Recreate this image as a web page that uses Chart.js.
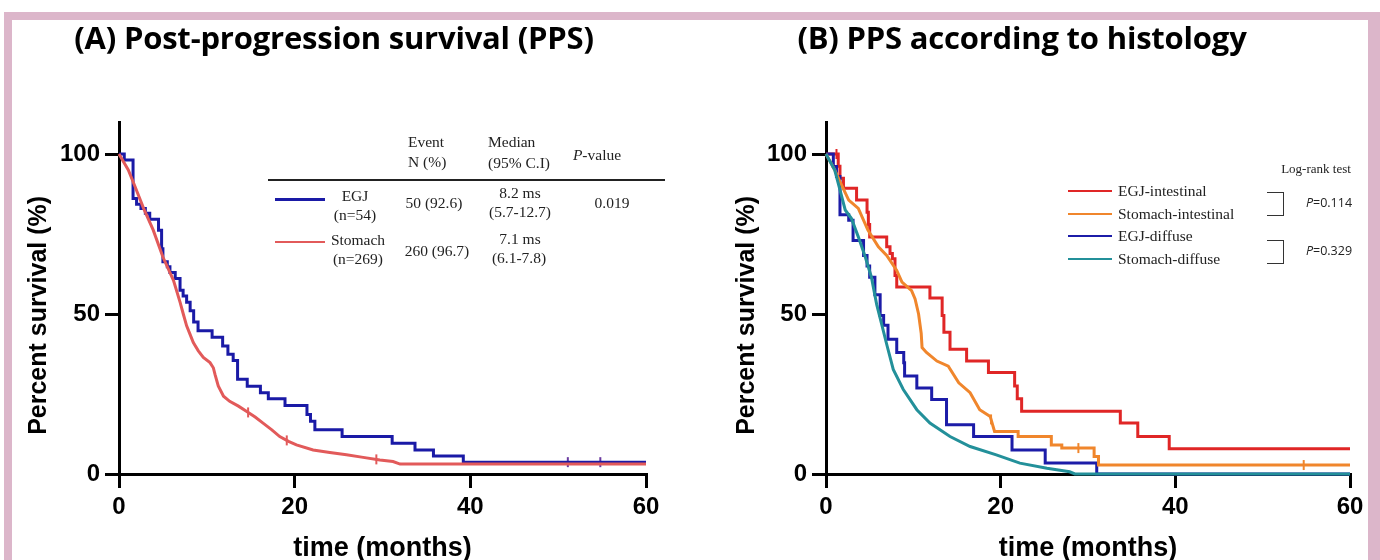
<!DOCTYPE html>
<html>
<head>
<meta charset="utf-8">
<script src="https://cdn.jsdelivr.net/npm/chart.js@4.4.1/dist/chart.umd.min.js"></script>
<style>
html,body{margin:0;padding:0;background:#fff;}
#wrap{position:relative;width:1380px;height:560px;overflow:hidden;background:#fff;}
canvas{position:absolute;top:0;}
.frame{position:absolute;background:#dcb6ca;}
.c{position:absolute;white-space:nowrap;transform:translate(-50%,-50%);line-height:1;}
.l{position:absolute;white-space:nowrap;transform:translate(0,-50%);line-height:1;}
.ttl{font-family:"Open Sans",Lato,sans-serif;font-weight:700;font-size:31px;color:#000;letter-spacing:-0.2px;}
.sf{font-family:"Liberation Serif","Times New Roman",serif;font-size:15.5px;color:#222;}
.sm{font-family:"Liberation Serif","Times New Roman",serif;font-size:13px;color:#222;}
.pv{font-family:"Open Sans",Lato,sans-serif;font-size:12.5px;color:#222;}
.sw{position:absolute;height:3px;}
.br{position:absolute;border:1.5px solid #333;border-left:none;}
</style>
</head>
<body>
<div id="wrap">
  <canvas id="cA" width="690" height="560" style="left:0px"></canvas>
  <canvas id="cB" width="690" height="560" style="left:690px"></canvas>

  <div class="frame" style="left:4px;top:12px;width:1376px;height:8px"></div>
  <div class="frame" style="left:4px;top:12px;width:8px;height:548px"></div>
  <div class="frame" style="left:1368px;top:12px;width:12px;height:548px"></div>

  <div class="c ttl" style="left:334px;top:37px">(A) Post-progression survival (PPS)</div>
  <div class="c ttl" style="left:1022px;top:37px">(B) PPS according to histology</div>

  <!-- Panel A table legend -->
  <div class="l sf" style="left:408px;top:142px">Event</div>
  <div class="l sf" style="left:408px;top:162px">N (%)</div>
  <div class="l sf" style="left:488px;top:142px">Median</div>
  <div class="l sf" style="left:488px;top:163px">(95% C.I)</div>
  <div class="c sf" style="left:597px;top:155px"><i>P</i>-value</div>
  <div style="position:absolute;left:268px;top:179px;width:397px;height:1.5px;background:#222"></div>

  <div id="swA1" class="sw" style="left:275px;top:198px;width:50px"></div>
  <div class="c sf" style="left:355px;top:196px">EGJ</div>
  <div class="c sf" style="left:355px;top:215px">(n=54)</div>
  <div class="c sf" style="left:434px;top:203px">50 (92.6)</div>
  <div class="c sf" style="left:520px;top:193px">8.2 ms</div>
  <div class="c sf" style="left:520px;top:212px">(5.7-12.7)</div>
  <div class="c sf" style="left:612px;top:203px">0.019</div>

  <div id="swA2" class="sw" style="left:275px;top:241px;width:50px;height:2px"></div>
  <div class="c sf" style="left:358px;top:240px">Stomach</div>
  <div class="c sf" style="left:358px;top:259px">(n=269)</div>
  <div class="c sf" style="left:437px;top:251px">260 (96.7)</div>
  <div class="c sf" style="left:520px;top:239px">7.1 ms</div>
  <div class="c sf" style="left:519px;top:258px">(6.1-7.8)</div>

  <!-- Panel B legend -->
  <div class="c sm" style="left:1316px;top:168px">Log-rank test</div>
  <div id="swB1" class="sw" style="left:1068px;top:190px;width:44px;height:2px"></div>
  <div id="swB2" class="sw" style="left:1068px;top:213px;width:44px;height:2px"></div>
  <div id="swB3" class="sw" style="left:1068px;top:235px;width:44px;height:2px"></div>
  <div id="swB4" class="sw" style="left:1068px;top:258px;width:44px;height:2px"></div>
  <div class="l sf" style="left:1118px;top:191px">EGJ-intestinal</div>
  <div class="l sf" style="left:1118px;top:214px">Stomach-intestinal</div>
  <div class="l sf" style="left:1118px;top:236px">EGJ-diffuse</div>
  <div class="l sf" style="left:1118px;top:259px">Stomach-diffuse</div>
  <div class="br" style="left:1267px;top:192px;width:16px;height:22px"></div>
  <div class="br" style="left:1267px;top:240px;width:16px;height:22px"></div>
  <div class="c pv" style="left:1329px;top:203px"><i>P</i>=0.114</div>
  <div class="c pv" style="left:1329px;top:251px"><i>P</i>=0.329</div>
</div>

<script>
// ---------- axis ticks ----------
const X_TICKS = [0, 20, 40, 60];
const Y_TICKS = [0, 50, 100];

// ---------- Panel A: EGJ (n=54), stepped KM ----------
const EGJ_A_T = [0, 0.6, 1.6, 2.0, 2.5, 3.0, 3.5, 4.5, 4.85, 5.0, 5.5, 5.8, 6.4, 6.95, 7.3, 7.7, 8.1, 8.5, 9.0, 10.6, 11.8, 12.4, 13.0, 13.5, 14.6, 16.1, 17.0, 18.9, 21.4, 21.8, 22.3, 25.4, 31.1, 33.7, 35.8, 39.2, 60];
const EGJ_A_S = [100, 98.1, 86.1, 84.3, 83.0, 81.5, 79.6, 76.2, 70.4, 66.3, 64.8, 63.0, 61.1, 57.4, 55.6, 53.7, 51.0, 47.5, 44.8, 42.7, 40.0, 37.4, 35.5, 29.6, 27.4, 25.4, 23.5, 21.4, 18.6, 16.5, 13.8, 11.7, 9.6, 7.5, 5.6, 3.7, 3.7];
const EGJ_A_CENSOR_T = [51.1, 54.8];

// ---------- Panel A: Stomach (n=269), dense KM traced as polyline ----------
const STO_A_T = [0, 1.06, 1.8, 2.8, 3.9, 5.0, 6.2, 6.95, 7.32, 7.7, 8.08, 8.46, 9.03, 9.6, 10.36, 10.74, 10.93, 11.3, 11.9, 12.6, 13.6, 14.5, 15.5, 16.4, 17.4, 18.3, 19.3, 20.2, 22.1, 24.0, 25.9, 27.8, 29.7, 31.2, 32.0, 60];
const STO_A_S = [100, 95, 90, 83, 76.2, 67.8, 60.5, 53.7, 50.0, 46.3, 43.7, 41.1, 38.5, 36.4, 34.8, 33.2, 31.1, 27.5, 24.3, 22.7, 21.2, 19.6, 17.8, 15.9, 13.8, 11.7, 10.2, 9.1, 7.5, 6.7, 6.0, 5.2, 4.4, 3.9, 3.1, 3.1];
const STO_A_CENSOR_T = [14.7, 19.1, 29.3];

// ---------- Panel B: EGJ-intestinal, stepped ----------
const EGJI_T = [0, 1.4, 1.6, 2.0, 3.5, 4.7, 4.85, 5.0, 6.95, 7.33, 7.6, 7.9, 8.1, 11.9, 13.3, 13.5, 14.2, 16.1, 18.6, 21.6, 21.9, 22.4, 33.7, 35.7, 39.3, 60];
const EGJI_S = [100, 96.2, 92.4, 89.3, 85.6, 81.8, 78, 74.1, 71, 68.9, 67.3, 62, 58.4, 55, 49.5, 44.3, 39, 35.3, 31.7, 27.5, 23.5, 19.6, 15.9, 11.7, 7.9, 7.9];
const EGJI_CENSOR_T = [1.2];

// ---------- Panel B: Stomach-intestinal, polyline ----------
const STOI_T = [0, 1.0, 1.6, 2.6, 3.7, 4.8, 6.0, 6.95, 8.1, 8.7, 9.8, 10.2, 10.6, 10.9, 11.0, 11.5, 12.7, 14.0, 15.2, 16.5, 17.6, 18.8, 19.3, 22.0, 22.0, 25.8, 25.8, 27.0, 27.0, 30.7, 30.7, 31.2, 31.2, 60];
const STOI_S = [100, 95, 91.4, 85.6, 83, 76.2, 71, 68.3, 63.6, 60, 57.3, 54.7, 50, 44, 39.5, 38, 35.3, 33.7, 28.5, 25.4, 20.1, 18, 13.3, 13.3, 11.7, 11.7, 9.1, 9.1, 8.1, 8.1, 5.5, 5.5, 2.8, 2.8];
const STOI_CENSOR_T = [18.9, 28.9, 54.7];

// ---------- Panel B: EGJ-diffuse, stepped ----------
const EGJD_T = [0, 0.84, 1.2, 1.6, 2.6, 3.1, 4.3, 4.7, 5.0, 5.6, 6.2, 6.6, 7.1, 8.1, 8.9, 9.0, 10.4, 12.1, 13.8, 16.9, 21.3, 25.1, 31.0, 60];
const EGJD_S = [100, 96.1, 93, 81, 79.3, 73, 68.3, 65, 61.5, 56, 49.5, 46.5, 42.1, 38, 34.8, 30.6, 26.9, 23.3, 15.4, 11.7, 7.5, 3.4, 0, 0];

// ---------- Panel B: Stomach-diffuse, polyline ----------
const STOD_T = [0, 1.0, 1.6, 2.2, 2.9, 3.7, 4.5, 5.2, 5.8, 6.4, 7.0, 7.7, 8.85, 10.4, 11.9, 14.2, 16.5, 19.5, 22.2, 25.3, 27.9, 28.5, 60];
const STOD_S = [100, 95, 88.8, 82.5, 79.9, 74.1, 67.8, 61.5, 53, 46.5, 40, 32.7, 26.4, 20.1, 15.9, 11.7, 8.6, 6.0, 3.4, 1.8, 0.7, 0, 0];

// ---------- colours ----------
const C_EGJ_A = '#1a1aa6';
const C_STO_A = '#e25a5a';
const C_EGJI = '#e02626';
const C_STOI = '#f0862c';
const C_EGJD = '#1c1ca8';
const C_STOD = '#23909a';

document.getElementById('swA1').style.background = C_EGJ_A;
document.getElementById('swA2').style.background = C_STO_A;
document.getElementById('swB1').style.background = C_EGJI;
document.getElementById('swB2').style.background = C_STOI;
document.getElementById('swB3').style.background = C_EGJD;
document.getElementById('swB4').style.background = C_STOD;

function pts(T, S) { return T.map((t, i) => ({x: t, y: S[i]})); }
function valueAt(T, S, t, stepped) {
  let i = 0;
  while (i + 1 < T.length && T[i + 1] <= t) i++;
  if (stepped || i + 1 >= T.length) return S[i];
  const f = (t - T[i]) / (T[i + 1] - T[i]);
  return S[i] + f * (S[i + 1] - S[i]);
}
function curve(label, T, S, color, stepped) {
  return {label, data: pts(T, S), borderColor: color, backgroundColor: color,
    borderWidth: 3, pointRadius: 0, stepped: stepped, tension: 0, clip: false, fill: false};
}
function censor(label, CT, T, S, color, stepped) {
  return {label, data: CT.map(t => ({x: t, y: valueAt(T, S, t, stepped)})),
    showLine: false, borderColor: color, backgroundColor: color,
    pointStyle: 'line', pointRotation: 90, pointRadius: 5, pointBorderWidth: 2, clip: false};
}

const TICK_FONT = {family: '"Liberation Sans", Arial, sans-serif', size: 24, weight: 'bold'};
const X_TITLE = 'time (months)';
const Y_TITLE = 'Percent survival (%)' + '\u00a0\u00a0\u00a0\u00a0\u00a0';

function options(yWidth, yTitlePad, rightPad) {
  return {
    responsive: false, animation: false, events: [],
    layout: {padding: {left: 0, top: 122, right: rightPad, bottom: 0}},
    plugins: {legend: {display: false}, tooltip: {enabled: false}, title: {display: false}},
    scales: {
      x: {
        type: 'linear', min: 0, max: 60,
        afterBuildTicks: s => { s.ticks = X_TICKS.map(v => ({value: v})); },
        afterFit: s => { s.height = 86; },
        grid: {drawOnChartArea: false, drawTicks: true, tickLength: 14, color: '#000', lineWidth: 3},
        border: {display: true, color: '#000', width: 3},
        ticks: {color: '#000', font: TICK_FONT, padding: 5, maxRotation: 0, autoSkip: false},
        title: {display: true, text: X_TITLE, color: '#000',
          font: {family: '"Liberation Sans", Arial, sans-serif', size: 27, weight: 'bold', lineHeight: 1},
          padding: {top: 0, bottom: -2}}
      },
      y: {
        type: 'linear', min: 0, max: 110,
        afterBuildTicks: s => { s.ticks = Y_TICKS.map(v => ({value: v})); },
        afterFit: s => { s.width = yWidth; },
        grid: {drawOnChartArea: false, drawTicks: true, tickLength: 14, color: '#000', lineWidth: 3},
        border: {display: true, color: '#000', width: 3},
        ticks: {color: '#000', font: TICK_FONT, padding: 5, autoSkip: false},
        title: {display: true, text: Y_TITLE, color: '#000',
          font: {family: '"Liberation Sans", Arial, sans-serif', size: 25, weight: 'bold', lineHeight: 1},
          padding: {top: yTitlePad, bottom: 0}}
      }
    }
  };
}

new Chart(document.getElementById('cA'), {
  type: 'line',
  data: {datasets: [
    curve('Stomach (n=269)', STO_A_T, STO_A_S, C_STO_A, false),
    curve('EGJ (n=54)', EGJ_A_T, EGJ_A_S, C_EGJ_A, true),
    censor('Stomach censored', STO_A_CENSOR_T, STO_A_T, STO_A_S, C_STO_A, false),
    censor('EGJ censored', EGJ_A_CENSOR_T, EGJ_A_T, EGJ_A_S, '#6a3aa0', true)
  ]},
  options: options(119, 27, 44)
});

new Chart(document.getElementById('cB'), {
  type: 'line',
  data: {datasets: [
    curve('Stomach-diffuse', STOD_T, STOD_S, C_STOD, false),
    curve('Stomach-intestinal', STOI_T, STOI_S, C_STOI, false),
    curve('EGJ-diffuse', EGJD_T, EGJD_S, C_EGJD, true),
    curve('EGJ-intestinal', EGJI_T, EGJI_S, C_EGJI, true),
    censor('Stomach-intestinal censored', STOI_CENSOR_T, STOI_T, STOI_S, C_STOI, false),
    censor('EGJ-intestinal censored', EGJI_CENSOR_T, EGJI_T, EGJI_S, C_EGJI, true)
  ]},
  options: options(136, 45, 30)
});
</script>
</body>
</html>
